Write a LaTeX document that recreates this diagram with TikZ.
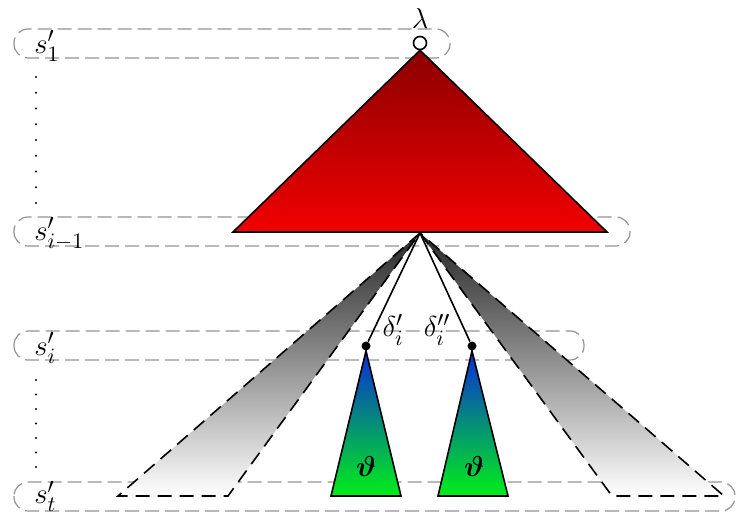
\documentclass[tikz,border=0pt]{standalone}
\usepackage{amsmath,bm}
\usetikzlibrary{positioning}
\definecolor{darkred}{RGB}{140,0,0}
\definecolor{brightred}{RGB}{242,0,0}
\definecolor{topblue}{RGB}{10,45,215}
\definecolor{botgreen}{RGB}{0,238,25}
\tikzset{
  band/.style={gray!85,dashed,dash pattern=on 7pt off 3pt,rounded corners=7pt,line width=0.6pt},
  fan/.style={top color=black!85,bottom color=white},
  fanline/.style={dashed,dash pattern=on 7pt off 4pt,line width=0.8pt},
  subtree/.style={draw,thick,top color=topblue,bottom color=botgreen},
  knot/.style={circle,fill,inner sep=0pt,minimum size=4.5pt},
  lvl/.style={anchor=west,inner sep=1pt}
}
\begin{document}
\begin{tikzpicture}[x=0.5pt,y=-0.5pt,font=\fontsize{15}{18}\selectfont]
\useasboundingbox (0,0) rectangle (737,514);
% levels
\draw[band] (14,29) rectangle (450,58);
\draw[band] (14,217) rectangle (630,246);
\draw[band] (14,331) rectangle (584,360);
\draw[band] (14,482) rectangle (735,511);
\node[lvl] (l1) at (32,46) {$s'_1$};
\node[lvl] (li1) at (32,234) {$s'_{i-1}$};
\node[lvl] (li) at (32,348) {$s'_i$};
\node[lvl] (lt) at (32,496) {$s'_t$};
\foreach \y in {77,92.75,...,204} \fill (36,\y) circle (0.6pt);
\foreach \y in {380,394.5,...,468} \fill (36,\y) circle (0.6pt);
% shadows
\coordinate (o) at (420,233);
\path[fan] (o) -- (118,496) -- (228,496) -- cycle;
\path[fan] (o) -- (612,496) -- (724,496) -- cycle;
\draw[fanline] (o) -- (118,496) -- (228,496) -- (o);
\draw[fanline] (o) -- (612,496) -- (724,496) -- (o);
% paths
\node[knot] (d1) at (366,346) {};
\node[knot] (d2) at (472,346) {};
\draw[thick] (o) -- (d1);
\draw[thick] (o) -- (d2);
\node[above right=-5pt and 3pt of d1] (dl1) {$\delta'_i$};
\node[above left=-5pt and 5.5pt of d2] (dl2) {$\delta''_i$};
% top
\node[circle,draw,thick,fill=white,inner sep=0pt,minimum size=6.5pt] (root) at (420,43) {};
\node[above=0pt of root] (lam) {$\lambda$};
\draw[thick,top color=darkred,bottom color=brightred] (root.south) -- (233,232) -- (607,232) -- cycle;
% subtrees
\draw[subtree] (d1.south) -- (331,496) -- (401,496) -- cycle;
\draw[subtree] (d2.south) -- (438,496) -- (508,496) -- cycle;
\node (t1) at (366,466) {$\bm{\vartheta}$};
\node (t2) at (474,466) {$\bm{\vartheta}$};
\end{tikzpicture}
\end{document}
